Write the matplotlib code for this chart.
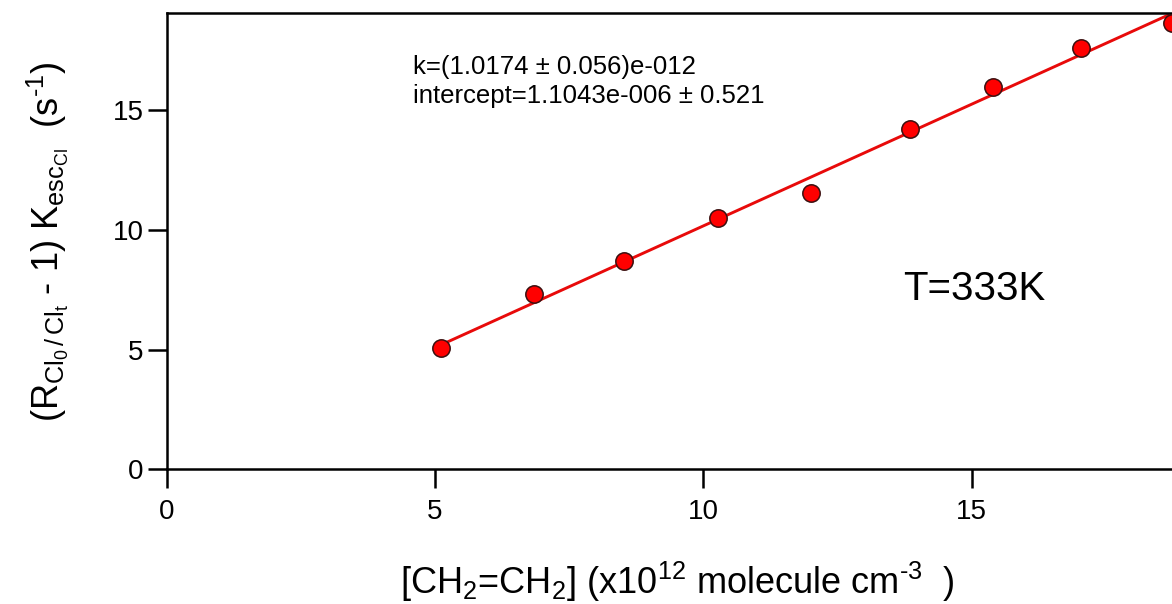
import matplotlib
matplotlib.use("Agg")
import matplotlib.pyplot as plt

plt.rcParams['font.family'] = ['Liberation Sans', 'DejaVu Sans']
plt.rcParams['mathtext.fontset'] = 'custom'
plt.rcParams['mathtext.rm'] = 'Liberation Sans'
plt.rcParams['mathtext.it'] = 'Liberation Sans'
plt.rcParams['mathtext.bf'] = 'Liberation Sans:bold'

# ethylene concentration (x1e12 molecule cm^-3) and (R - 1) * K_esc (s^-1)
conc = [5.11, 6.84, 8.53, 10.27, 12.00, 13.85, 15.39, 17.04, 18.73]
rate = [5.06, 7.33, 8.70, 10.49, 11.56, 14.21, 15.99, 17.61, 18.66]

# linear fit result
slope = 1.0174
intercept = 1.1043e-6
fit_text = ["k=(1.0174 \u00b1 0.056)e-012", "intercept=1.1043e-006 \u00b1 0.521"]
temp_label = "T=333K"

xticks = [0, 5, 10, 15]
yticks = [0, 5, 10, 15]

fig = plt.figure(figsize=(11.72, 6.04), dpi=100)
ax = fig.add_axes([0.1422, 0.2230, 0.893, 0.755])

fit_x = [conc[0], conc[-1]]
fit_y = [slope * v + intercept for v in fit_x]
ax.plot(fit_x, fit_y, color='#e80a0a', lw=2.1, zorder=2)
ax.plot(conc, rate, 'o', ms=12.5, mfc='#ff0000', mec='#3a1010', mew=1.1, zorder=3)

ax.set_xlim(0, 19.5)
ax.set_ylim(0, 19.06)
ax.set_xticks(xticks)
ax.set_yticks(yticks)
ax.tick_params(direction='out', length=13.5, width=1.8, labelsize=20)
ax.tick_params(axis='x', pad=8)
ax.tick_params(axis='y', pad=3)
for side in ('left', 'bottom', 'top'):
    ax.spines[side].set_linewidth(1.8)
ax.spines['right'].set_visible(False)

ax.text(4.59, 16.8, fit_text[0], fontsize=18.5, va='center', ha='left')
ax.text(4.59, 15.6, fit_text[1], fontsize=18.5, va='center', ha='left')
ax.text(13.72, 7.55, temp_label, fontsize=29, va='center', ha='left')

fig.text(0.578, 0.036,
         "[CH$_2$=CH$_2$] (x10$^{12}$ molecule cm$^{\u20103}$  )",
         fontsize=26, ha='center', va='center')
fig.text(0.041, 0.60,
         "(R$_{\\mathrm{Cl_0\\,/\\,Cl_t}}$ - 1) K$_{\\mathrm{esc_{Cl}}}$  (s$^{\u20101}$)",
         fontsize=26, ha='center', va='center', rotation=90)

fig.savefig("out.png", dpi=100)
